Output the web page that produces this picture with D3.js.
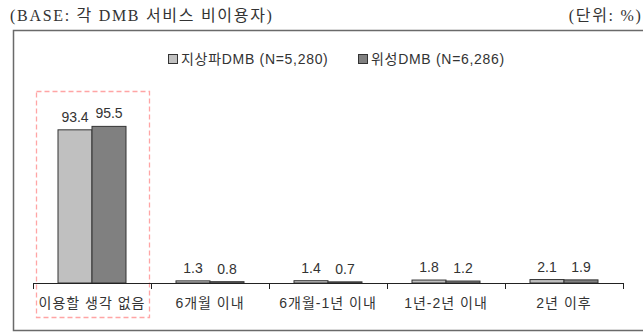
<!DOCTYPE html>
<html>
<head>
<meta charset="utf-8">
<script src="https://cdn.jsdelivr.net/npm/d3@7"></script>
<style>
  body { margin: 0; background: #fff; }
  svg text { font-family: "Liberation Sans", "Noto Sans CJK KR", sans-serif; fill: #222; }
  .head { font-family: "Liberation Serif", "Noto Sans CJK KR", serif; font-size: 16px; fill: #333; letter-spacing: 1.7px; }
</style>
</head>
<body>
<script>
// categories and series
const categories = ["이용할 생각 없음", "6개월 이내", "6개월-1년 이내", "1년-2년 이내", "2년 이후"];
const seriesNames = ["지상파DMB (N=5,280)", "위성DMB (N=6,286)"];
const terrestrial = [93.4, 1.3, 1.4, 1.8, 2.1];
const satellite = [95.5, 0.8, 0.7, 1.2, 1.9];
const colors = ["#c0c0c0", "#808080"];

const w = 643, h = 332;
const svg = d3.select("body").append("svg")
    .attr("width", w)
    .attr("height", h);

// header texts
svg.append("text").attr("class", "head")
    .attr("x", 10).attr("y", 21)
    .text("(BASE: 각 DMB 서비스 비이용자)");
svg.append("text").attr("class", "head")
    .attr("x", 642.5).attr("y", 21)
    .attr("text-anchor", "end")
    .text("(단위: %)");

// frame (open on the right)
svg.append("path")
    .attr("d", "M643,30.5 H13.5 V330.5 H643")
    .attr("fill", "none")
    .attr("stroke", "#6a6a6a")
    .attr("stroke-width", 1.5);

// scales
const x = d3.scaleBand()
    .domain(categories)
    .range([33, 623]);
const xSub = d3.scaleBand()
    .domain(seriesNames)
    .range([25, 93]);
const y = d3.scaleLinear()
    .domain([0, 100])
    .range([283, 119]);

const data = categories.map((c, i) => ({
    cat: c,
    vals: [terrestrial[i], satellite[i]]
}));

// dashed highlight around first category
svg.append("rect")
    .attr("x", x(categories[0]) + 3.5)
    .attr("y", 91.5)
    .attr("width", x.bandwidth() - 5)
    .attr("height", 226)
    .attr("fill", "none")
    .attr("stroke", "#ffa5a5")
    .attr("stroke-width", 1.3)
    .attr("stroke-dasharray", "5,3");

// bars
const g = svg.selectAll("g.cat")
    .data(data)
    .enter()
    .append("g")
    .attr("class", "cat")
    .attr("transform", d => `translate(${x(d.cat)},0)`);

g.selectAll("rect")
    .data(d => d.vals.map((v, j) => ({ name: seriesNames[j], v: v, j: j })))
    .enter()
    .append("rect")
    .attr("x", d => xSub(d.name))
    .attr("y", d => y(d.v))
    .attr("width", xSub.bandwidth())
    .attr("height", d => y(0) - y(d.v))
    .attr("fill", d => colors[d.j])
    .attr("stroke", "#333")
    .attr("stroke-width", 1);

// value labels
g.selectAll("text.val")
    .data(d => d.vals.map((v, j) => ({ name: seriesNames[j], v: v })))
    .enter()
    .append("text")
    .attr("class", "val")
    .attr("x", d => xSub(d.name) + xSub.bandwidth() / 2)
    .attr("y", d => y(d.v) - 8)
    .attr("text-anchor", "middle")
    .style("font-size", "14px")
    .style("fill", "#333")
    .text(d => d.v.toFixed(1));

// x axis line with boundary ticks
svg.append("line")
    .attr("x1", x.range()[0]).attr("x2", x.range()[1])
    .attr("y1", y(0) + 0.5).attr("y2", y(0) + 0.5)
    .attr("stroke", "#222");
const bounds = categories.map(c => x(c)).concat([x.range()[1]]);
svg.selectAll("line.tick")
    .data(bounds)
    .enter()
    .append("line")
    .attr("class", "tick")
    .attr("x1", d => d + 0.5).attr("x2", d => d + 0.5)
    .attr("y1", y(0)).attr("y2", y(0) + 6)
    .attr("stroke", "#222");

// category labels
svg.selectAll("text.cat")
    .data(categories)
    .enter()
    .append("text")
    .attr("class", "cat")
    .attr("x", d => x(d) + x.bandwidth() / 2)
    .attr("y", 308)
    .attr("text-anchor", "middle")
    .style("font-size", "14px")
    .style("letter-spacing", "1px")
    .style("fill", "#333")
    .text(d => d);

// legend
const legX = [168, 358];
const leg = svg.selectAll("g.leg")
    .data(seriesNames)
    .enter()
    .append("g")
    .attr("class", "leg")
    .attr("transform", (d, i) => `translate(${legX[i]},54)`);
leg.append("rect")
    .attr("x", 0.5).attr("y", 0.5)
    .attr("width", 9).attr("height", 9)
    .attr("fill", (d, i) => colors[i])
    .attr("stroke", "#333");
leg.append("text")
    .attr("x", 13).attr("y", 10)
    .style("font-size", "14px")
    .style("letter-spacing", "0.7px")
    .style("fill", "#333")
    .text(d => d);
</script>
</body>
</html>
